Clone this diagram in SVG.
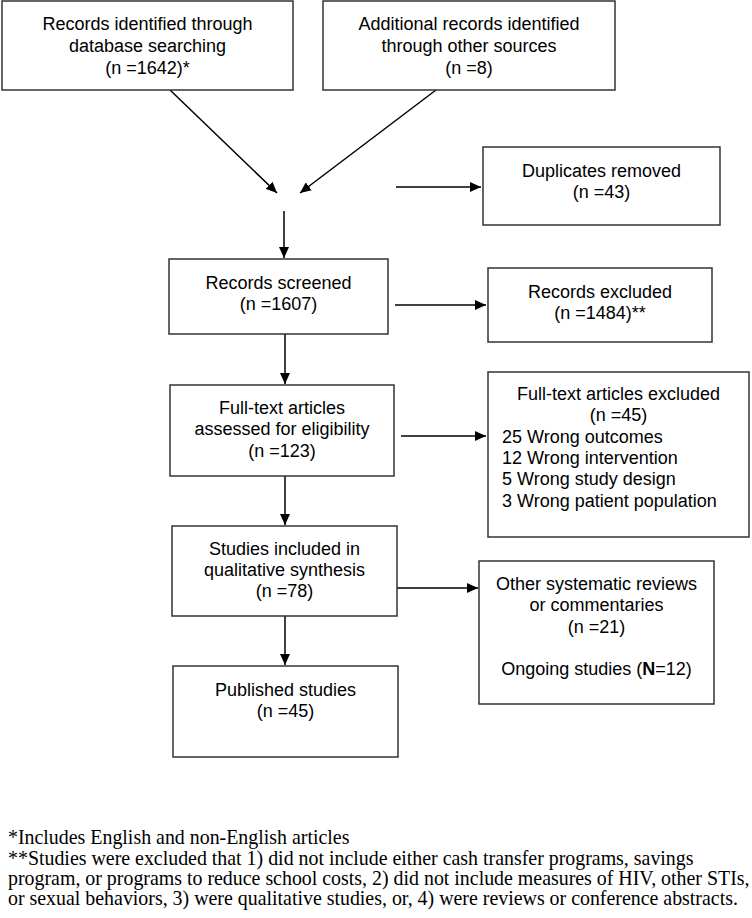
<svg xmlns="http://www.w3.org/2000/svg" width="752" height="918" viewBox="0 0 752 918">
<style>
.box{fill:#fff;stroke:#333;stroke-width:1.5}
.t{font-family:"Liberation Sans",Arial,sans-serif;font-size:18px;fill:#000;text-anchor:middle}
.l{text-anchor:start}
.c{stroke:#000;stroke-width:1.5;fill:none;marker-end:url(#ah)}
.fn{font-family:"Liberation Serif","Times New Roman",serif;font-size:19.9px;fill:#000}
</style>
<defs>
<marker id="ah" markerUnits="userSpaceOnUse" markerWidth="12" markerHeight="10" refX="11" refY="5" orient="auto">
<path d="M0,0 L11,5 L0,10 z" fill="#000"/>
</marker>
</defs>
<rect width="752" height="918" fill="#fff"/>
<g id="connectors">
<line class="c" x1="170" y1="90" x2="277" y2="193"/>
<line class="c" x1="436" y1="90" x2="300" y2="193"/>
<line class="c" x1="396" y1="187" x2="481" y2="187"/>
<line class="c" x1="284" y1="211" x2="284" y2="258"/>
<line class="c" x1="395" y1="305" x2="486" y2="305"/>
<line class="c" x1="285" y1="334" x2="285" y2="384"/>
<line class="c" x1="401" y1="436" x2="486" y2="436"/>
<line class="c" x1="285" y1="476" x2="285" y2="525"/>
<line class="c" x1="397" y1="588" x2="478" y2="588"/>
<line class="c" x1="285" y1="616" x2="285" y2="665"/>
</g>
<g id="n1">
<rect class="box" x="2" y="1" width="291" height="89"/>
<text class="t" x="147.5" y="30">Records identified through</text>
<text class="t" x="147.5" y="52">database searching</text>
<text class="t" x="147.5" y="74">(n =1642)*</text>
</g>
<g id="n2">
<rect class="box" x="323" y="1" width="292" height="89"/>
<text class="t" x="469" y="30">Additional records identified</text>
<text class="t" x="469" y="52">through other sources</text>
<text class="t" x="469" y="74">(n =8)</text>
</g>
<g id="n3">
<rect class="box" x="483" y="147" width="237" height="78"/>
<text class="t" x="601.5" y="177">Duplicates removed</text>
<text class="t" x="601.5" y="198">(n =43)</text>
</g>
<g id="n4">
<rect class="box" x="169" y="259" width="219" height="75"/>
<text class="t" x="278.5" y="289">Records screened</text>
<text class="t" x="278.5" y="310">(n =1607)</text>
</g>
<g id="n5">
<rect class="box" x="488" y="268" width="224" height="74"/>
<text class="t" x="600" y="298">Records excluded</text>
<text class="t" x="600" y="319">(n =1484)**</text>
</g>
<g id="n6">
<rect class="box" x="170" y="385" width="224" height="91"/>
<text class="t" x="282" y="414">Full-text articles</text>
<text class="t" x="282" y="435">assessed for eligibility</text>
<text class="t" x="282" y="457">(n =123)</text>
</g>
<g id="n7">
<rect class="box" x="488" y="372" width="261" height="165"/>
<text class="t" x="618.5" y="400">Full-text articles excluded</text>
<text class="t" x="618.5" y="421">(n =45)</text>
<text class="t l" x="502" y="443">25 Wrong outcomes</text>
<text class="t l" x="502" y="464">12 Wrong intervention</text>
<text class="t l" x="502" y="485">5 Wrong study design</text>
<text class="t l" x="502" y="507">3 Wrong patient population</text>
</g>
<g id="n8">
<rect class="box" x="172" y="526" width="225" height="90"/>
<text class="t" x="284.5" y="555">Studies included in</text>
<text class="t" x="284.5" y="576">qualitative synthesis</text>
<text class="t" x="284.5" y="597">(n =78)</text>
</g>
<g id="n9">
<rect class="box" x="479" y="561" width="235" height="143"/>
<text class="t" x="596.5" y="590">Other systematic reviews</text>
<text class="t" x="596.5" y="611">or commentaries</text>
<text class="t" x="596.5" y="633">(n =21)</text>
<text class="t" x="596.5" y="675">Ongoing studies (<tspan font-weight="bold">N</tspan>=12)</text>
</g>
<g id="n10">
<rect class="box" x="173" y="666" width="225" height="91"/>
<text class="t" x="285.5" y="696">Published studies</text>
<text class="t" x="285.5" y="717">(n =45)</text>
</g>
<g id="notes">
<text class="fn" x="8" y="844">*Includes English and non-English articles</text>
<text class="fn" x="8" y="864.5">**Studies were excluded that 1) did not include either cash transfer programs, savings</text>
<text class="fn" x="8" y="885">program, or programs to reduce school costs, 2) did not include measures of HIV, other STIs,</text>
<text class="fn" x="8" y="905">or sexual behaviors, 3) were qualitative studies, or, 4) were reviews or conference abstracts.</text>
</g>
</svg>
